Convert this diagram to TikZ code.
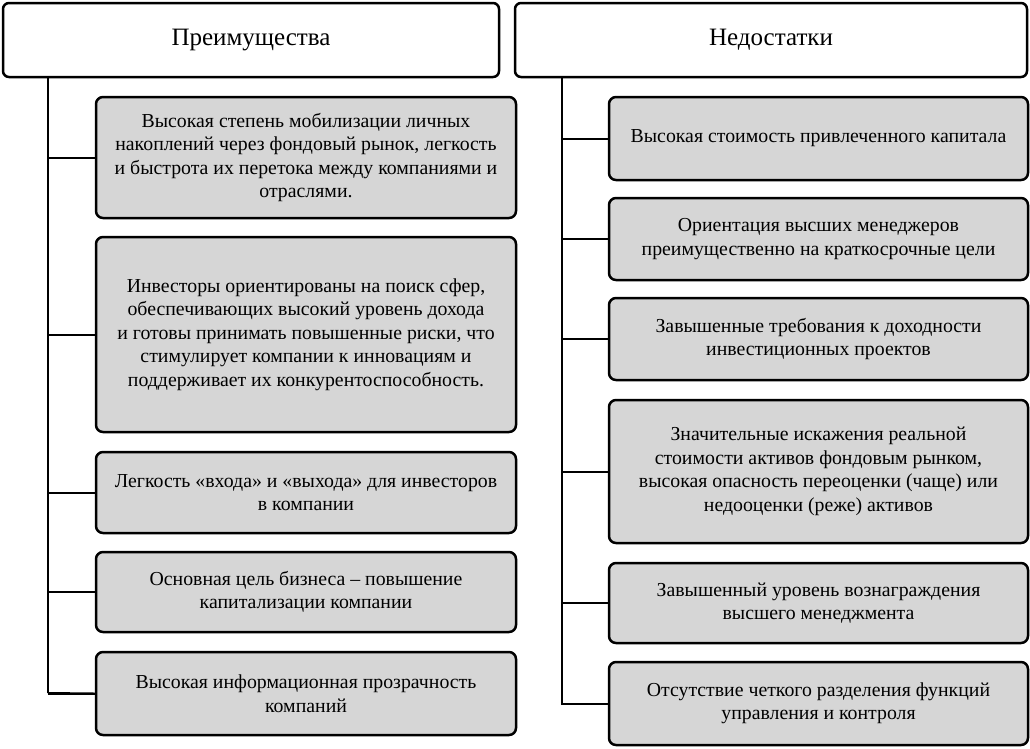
\documentclass[tikz,border=0pt]{standalone}
\usepackage{fontspec}
\setmainfont{Liberation Serif}
\begin{document}
\begin{tikzpicture}[x=1pt,y=-1pt,
  hdr/.style={draw,line width=2.5pt,rounded corners=6pt,fill=white,font=\fontsize{25}{29}\selectfont,inner sep=0pt},
  itm/.style={draw,line width=2.5pt,rounded corners=7pt,fill=gray!32,font=\fontsize{19.8}{23.5}\selectfont,align=center,inner sep=0pt},
  ln/.style={line width=2pt}]
\useasboundingbox (0,0) rectangle (1030,748);
\newcommand{\bx}[6]{\node[itm,minimum width=#3-#2,minimum height=#5-#4] (#1) at ({(#2+#3)/2},{(#4+#5)/2}) {#6};}
\node[hdr,minimum width=496,minimum height=74] (h1) at (251,40) {Преимущества};
\node[hdr,minimum width=512,minimum height=74] (h2) at (771,40) {Недостатки};
\coordinate (l0) at (48,78); \coordinate (l1) at (48,693);
\coordinate (r0) at (562,78); \coordinate (r1) at (562,705);
\bx{a1}{96}{516}{97}{218}{Высокая степень мобилизации личных\\накоплений через фондовый рынок, легкость\\и быстрота их перетока между компаниями и\\отраслями.}
\bx{a2}{96}{516}{237}{432}{Инвесторы ориентированы на поиск сфер,\\обеспечивающих высокий уровень дохода\\и готовы принимать повышенные риски, что\\стимулирует компании к инновациям и\\поддерживает их конкурентоспособность.}
\bx{a3}{96}{516}{452}{533}{Легкость «входа» и «выхода» для инвесторов\\в компании}
\bx{a4}{96}{516}{552}{632}{Основная цель бизнеса – повышение\\капитализации компании}
\bx{a5}{96}{516}{652}{735}{Высокая информационная прозрачность\\компаний}
\bx{b1}{609}{1028}{97}{180}{Высокая стоимость привлеченного капитала}
\bx{b2}{609}{1028}{198}{280}{Ориентация высших менеджеров\\преимущественно на краткосрочные цели}
\bx{b3}{609}{1028}{298}{380}{Завышенные требования к доходности\\инвестиционных проектов}
\bx{b4}{609}{1028}{400}{543}{Значительные искажения реальной\\стоимости активов фондовым рынком,\\высокая опасность переоценки (чаще) или\\недооценки (реже) активов}
\bx{b5}{609}{1028}{563}{643}{Завышенный уровень вознаграждения\\высшего менеджмента}
\bx{b6}{609}{1028}{662}{745}{Отсутствие четкого разделения функций\\управления и контроля}
\draw[ln] (l0) -- (l1);
\draw[ln] (r0) -- (r1);
\foreach \n in {a1,a2,a3,a4,a5}{\draw[ln] (\n.west -| l0) -- (\n.west);}
\draw[ln] (l1) -- (a5.west);
\foreach \n in {b1,b2,b3,b4,b5,b6}{\draw[ln] (\n.west -| r0) -- (\n.west);}
\end{tikzpicture}
\end{document}
